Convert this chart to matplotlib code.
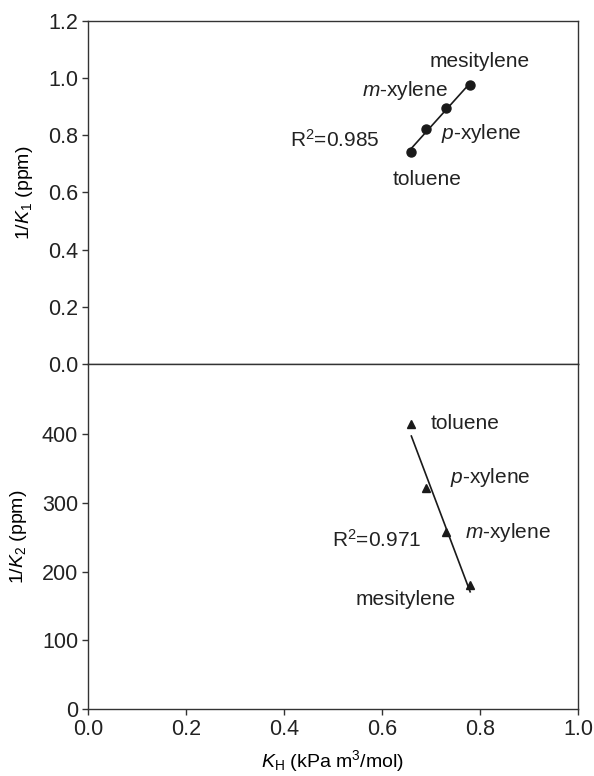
import numpy as np
import matplotlib
matplotlib.use('Agg')
import matplotlib.pyplot as plt

# data
compounds = ['toluene', 'p-xylene', 'm-xylene', 'mesitylene']
kh = [0.66, 0.69, 0.73, 0.78]
inv_k1 = [0.743, 0.821, 0.897, 0.975]
inv_k2 = [415, 321, 257, 180]

r2_top = '0.985'
r2_bottom = '0.971'

plt.rcParams.update({
    "font.family": "Liberation Sans",
    "font.size": 15,
    "mathtext.fontset": "custom",
    "mathtext.rm": "Liberation Sans",
    "mathtext.it": "Liberation Sans:italic",
    "axes.edgecolor": "#333333",
    "axes.linewidth": 1.0,
    "xtick.color": "#333333",
    "ytick.color": "#333333",
    "xtick.labelcolor": "#222222",
    "ytick.labelcolor": "#222222",
    "xtick.labelsize": 15.5,
    "ytick.labelsize": 15.5,
    "axes.labelsize": 14,
    "text.color": "#222222",
})

fig = plt.figure(figsize=(5.94, 7.76), dpi=100)
ax1 = fig.add_axes([0.148, 0.531, 0.825, 0.442])
ax2 = fig.add_axes([0.148, 0.0863, 0.825, 0.4447])

ink = '#1a1a1a'

# top panel
p1 = np.polyfit(kh, inv_k1, 1)
xf = np.array([min(kh), max(kh)])
ax1.plot(xf, np.polyval(p1, xf), color=ink, lw=1.2)
ax1.plot(kh, inv_k1, 'o', color=ink, ms=6.5)
ax1.set_xlim(0, 1.0)
ax1.set_ylim(0, 1.2)
ax1.set_yticks(np.arange(0, 1.21, 0.2))
ax1.set_yticklabels(['%.1f' % v for v in np.arange(0, 1.21, 0.2)])
ax1.set_xticks([])
ax1.tick_params(axis='y', direction='out', length=4, width=1, pad=3)
ax1.set_ylabel(r'1/$\mathit{K}_1$ (ppm)', labelpad=9)

ax1.text(0.80, 1.057, 'mesitylene', ha='center', va='center')
ax1.text(0.647, 0.956, r'$\mathit{m}$-xylene', ha='center', va='center')
ax1.text(0.802, 0.807, r'$\mathit{p}$-xylene', ha='center', va='center')
ax1.text(0.692, 0.644, 'toluene', ha='center', va='center')
ax1.text(0.504, 0.784, r'R$^2$=' + r2_top, ha='center', va='center')

# bottom panel
p2 = np.polyfit(kh, inv_k2, 1)
ax2.plot(xf, np.polyval(p2, xf), color=ink, lw=1.2)
ax2.plot(kh, inv_k2, '^', color=ink, ms=6)
ax2.set_xlim(0, 1.0)
ax2.set_ylim(0, 502)
ax2.set_yticks([0, 100, 200, 300, 400])
ax2.set_xticks(np.arange(0, 1.01, 0.2))
ax2.set_xticklabels(['%.1f' % v for v in np.arange(0, 1.01, 0.2)])
ax2.tick_params(direction='out', length=4, width=1, pad=3)
ax2.set_ylabel(r'1/$\mathit{K}_2$ (ppm)', labelpad=9)
ax2.set_xlabel(r'$\mathit{K}_\mathrm{H}$ (kPa m$^3$/mol)', labelpad=6)

ax2.text(0.770, 416, 'toluene', ha='center', va='center')
ax2.text(0.820, 337, r'$\mathit{p}$-xylene', ha='center', va='center')
ax2.text(0.857, 257, r'$\mathit{m}$-xylene', ha='center', va='center')
ax2.text(0.649, 159, 'mesitylene', ha='center', va='center')
ax2.text(0.590, 246, r'R$^2$=' + r2_bottom, ha='center', va='center')

fig.savefig('out.png', dpi=100)
